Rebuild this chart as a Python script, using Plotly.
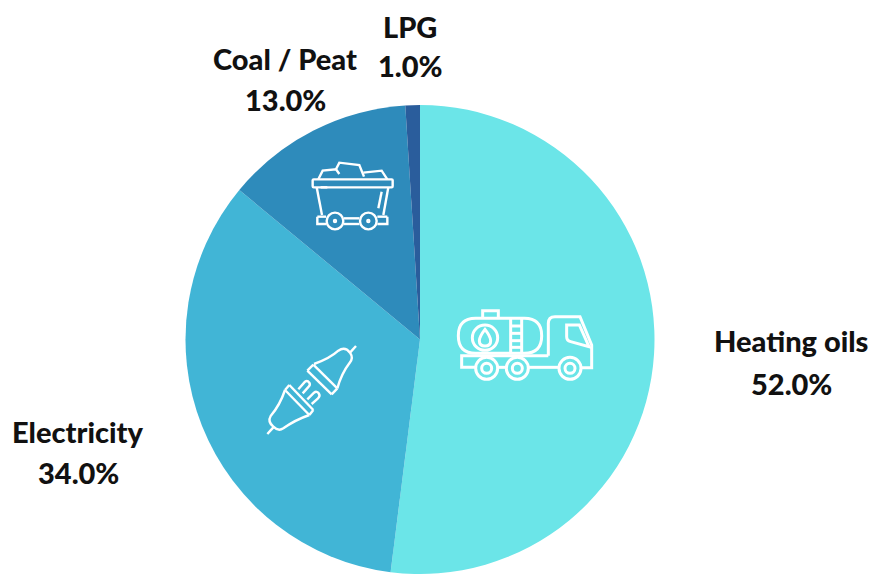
import re
import plotly.graph_objects as go

W, H = 871, 574

labels = ["Heating oils", "Electricity", "Coal / Peat", "LPG"]
values = [52.0, 34.0, 13.0, 1.0]
colors = ["#6BE5E8", "#41B5D6", "#2E8BBB", "#2A5D9C"]
label_centers = [(791, 340, 383), (78, 431, 472), (285, 58, 99), (410, 27, 66)]

FONT = "Lato"
FONT_SIZE = 29


def conv(path, ox, oy, s=1 / 3):
    toks = re.findall(r"[MLQCZ]|-?[\d.]+", path)
    out, isx = [], True
    for t in toks:
        if t in "MLQCZ":
            out.append(t)
            isx = True
        else:
            v = float(t)
            if isx:
                out.append(f"{(ox + v * s) / W:.5f}")
            else:
                out.append(f"{1 - (oy + v * s) / H:.5f}")
            isx = not isx
    res = ""
    for t in out:
        res += (t if t in "MLQCZ" else t + ("," if res[-1] in "MLQCZ" else " "))
    return res


def rrect(x0, y0, x1, y1, r):
    return (f"M{x0 + r} {y0} L{x1 - r} {y0} Q{x1} {y0} {x1} {y0 + r} L{x1} {y1 - r} Q{x1} {y1} {x1 - r} {y1} "
            f"L{x0 + r} {y1} Q{x0} {y1} {x0} {y1 - r} L{x0} {y0 + r} Q{x0} {y0} {x0 + r} {y0} Z")


def circ(cx, cy, r):
    k = 0.5523 * r
    return (f"M{cx - r} {cy} C{cx - r} {cy - k} {cx - k} {cy - r} {cx} {cy - r} "
            f"C{cx + k} {cy - r} {cx + r} {cy - k} {cx + r} {cy} "
            f"C{cx + r} {cy + k} {cx + k} {cy + r} {cx} {cy + r} "
            f"C{cx - k} {cy + r} {cx - r} {cy + k} {cx - r} {cy} Z")


truck = [
    rrect(55, 85, 305, 190, 52),
    "M128 85 L128 62 L175 62 L175 85",
    "M212 85 L212 190", "M245 85 L245 190",
    "M212 108 L245 108", "M212 130 L245 130", "M212 152 L245 152", "M212 172 L245 172",
    circ(135, 143, 38),
    "M135 118 Q118 140 118 152 Q118 168 135 168 Q152 168 152 152 Q152 140 135 118 Z",
    "M105 232 L65 232 L65 197 L325 197",
    "M174 232 L198 232", "M266 232 L355 232",
    "M325 197 L325 100 Q325 80 345 80 L420 80 L455 165 L455 233 L425 233",
    "M380 105 L418 105 L447 170 L392 155 Q380 152 380 140 Z",
    circ(140, 235, 33), circ(140, 235, 15),
    circ(232, 235, 33), circ(232, 235, 15),
    circ(390, 235, 33), circ(390, 235, 15),
]
plug = [
    "M172 122 L245 193", "M190 104 L262 175", "M172 122 L190 104", "M245 193 L262 175",
    "M192 102 Q240 85 265 62 Q285 48 300 68 Q312 85 298 100 Q275 130 262 175",
    "M300 68 L318 48",
    "M118 165 L190 240", "M105 180 L178 255", "M118 165 L105 180", "M190 240 L178 255",
    "M105 180 Q90 225 62 258 Q52 275 70 290 Q85 305 100 295 Q135 270 178 255",
    "M70 292 L52 312",
    "M145 178 L165 155 Q172 150 178 158 Q182 165 176 170 L158 190",
    "M172 208 L192 188 Q200 182 206 190 Q212 198 204 205 L185 222",
]
cart = [
    rrect(38, 88, 278, 112, 3),
    "M50 112 L66 195", "M265 112 L250 195",
    "M245 125 L235 175",
    "M62 112 L82 112",
    "M52 200 L52 222 L78 222", "M52 200 L78 200",
    "M262 200 L262 222 L232 222", "M262 200 L232 200",
    "M132 205 L178 205", "M132 222 L178 222",
    circ(105, 213, 25), circ(205, 213, 25),
    circ(105, 213, 3), circ(205, 213, 3),
    "M55 88 L68 62 L108 58 L118 72",
    "M108 58 L118 38 L178 45 L192 80",
    "M190 68 L245 62 L262 88",
]

shapes = []
for group, ox, oy, lw in ((truck, 440, 290, 3), (plug, 250, 330, 2.4), (cart, 300, 150, 2.4)):
    for p in group:
        shapes.append(dict(type="path", path=conv(p, ox, oy), xref="paper", yref="paper",
                           line=dict(color="white", width=lw), layer="above"))

fig = go.Figure(go.Pie(
    labels=labels, values=values, sort=False, direction="clockwise", rotation=0,
    marker=dict(colors=colors, line=dict(width=0)),
    textinfo="none", hoverinfo="label+percent", showlegend=False,
    domain=dict(x=[185 / W, 655 / W], y=[0, 1 - 105 / H]),
))

annotations = []
for name, val, (cx, y1, y2) in zip(labels, values, label_centers):
    for txt, y in ((name, y1), (f"{val:.1f}%", y2)):
        annotations.append(dict(text=txt, x=cx / W, y=1 - y / H, xref="paper", yref="paper",
                                xanchor="center", yanchor="middle", showarrow=False,
                                font=dict(family=FONT, size=FONT_SIZE, color="#111111", weight=900)))

fig.update_layout(width=W, height=H, margin=dict(l=0, r=0, t=0, b=0),
                  paper_bgcolor="white", shapes=shapes, annotations=annotations)
fig.write_html("out.html", config=dict(displayModeBar=False),
               post_script="document.body.style.margin='0';document.documentElement.style.overflow='hidden';")
